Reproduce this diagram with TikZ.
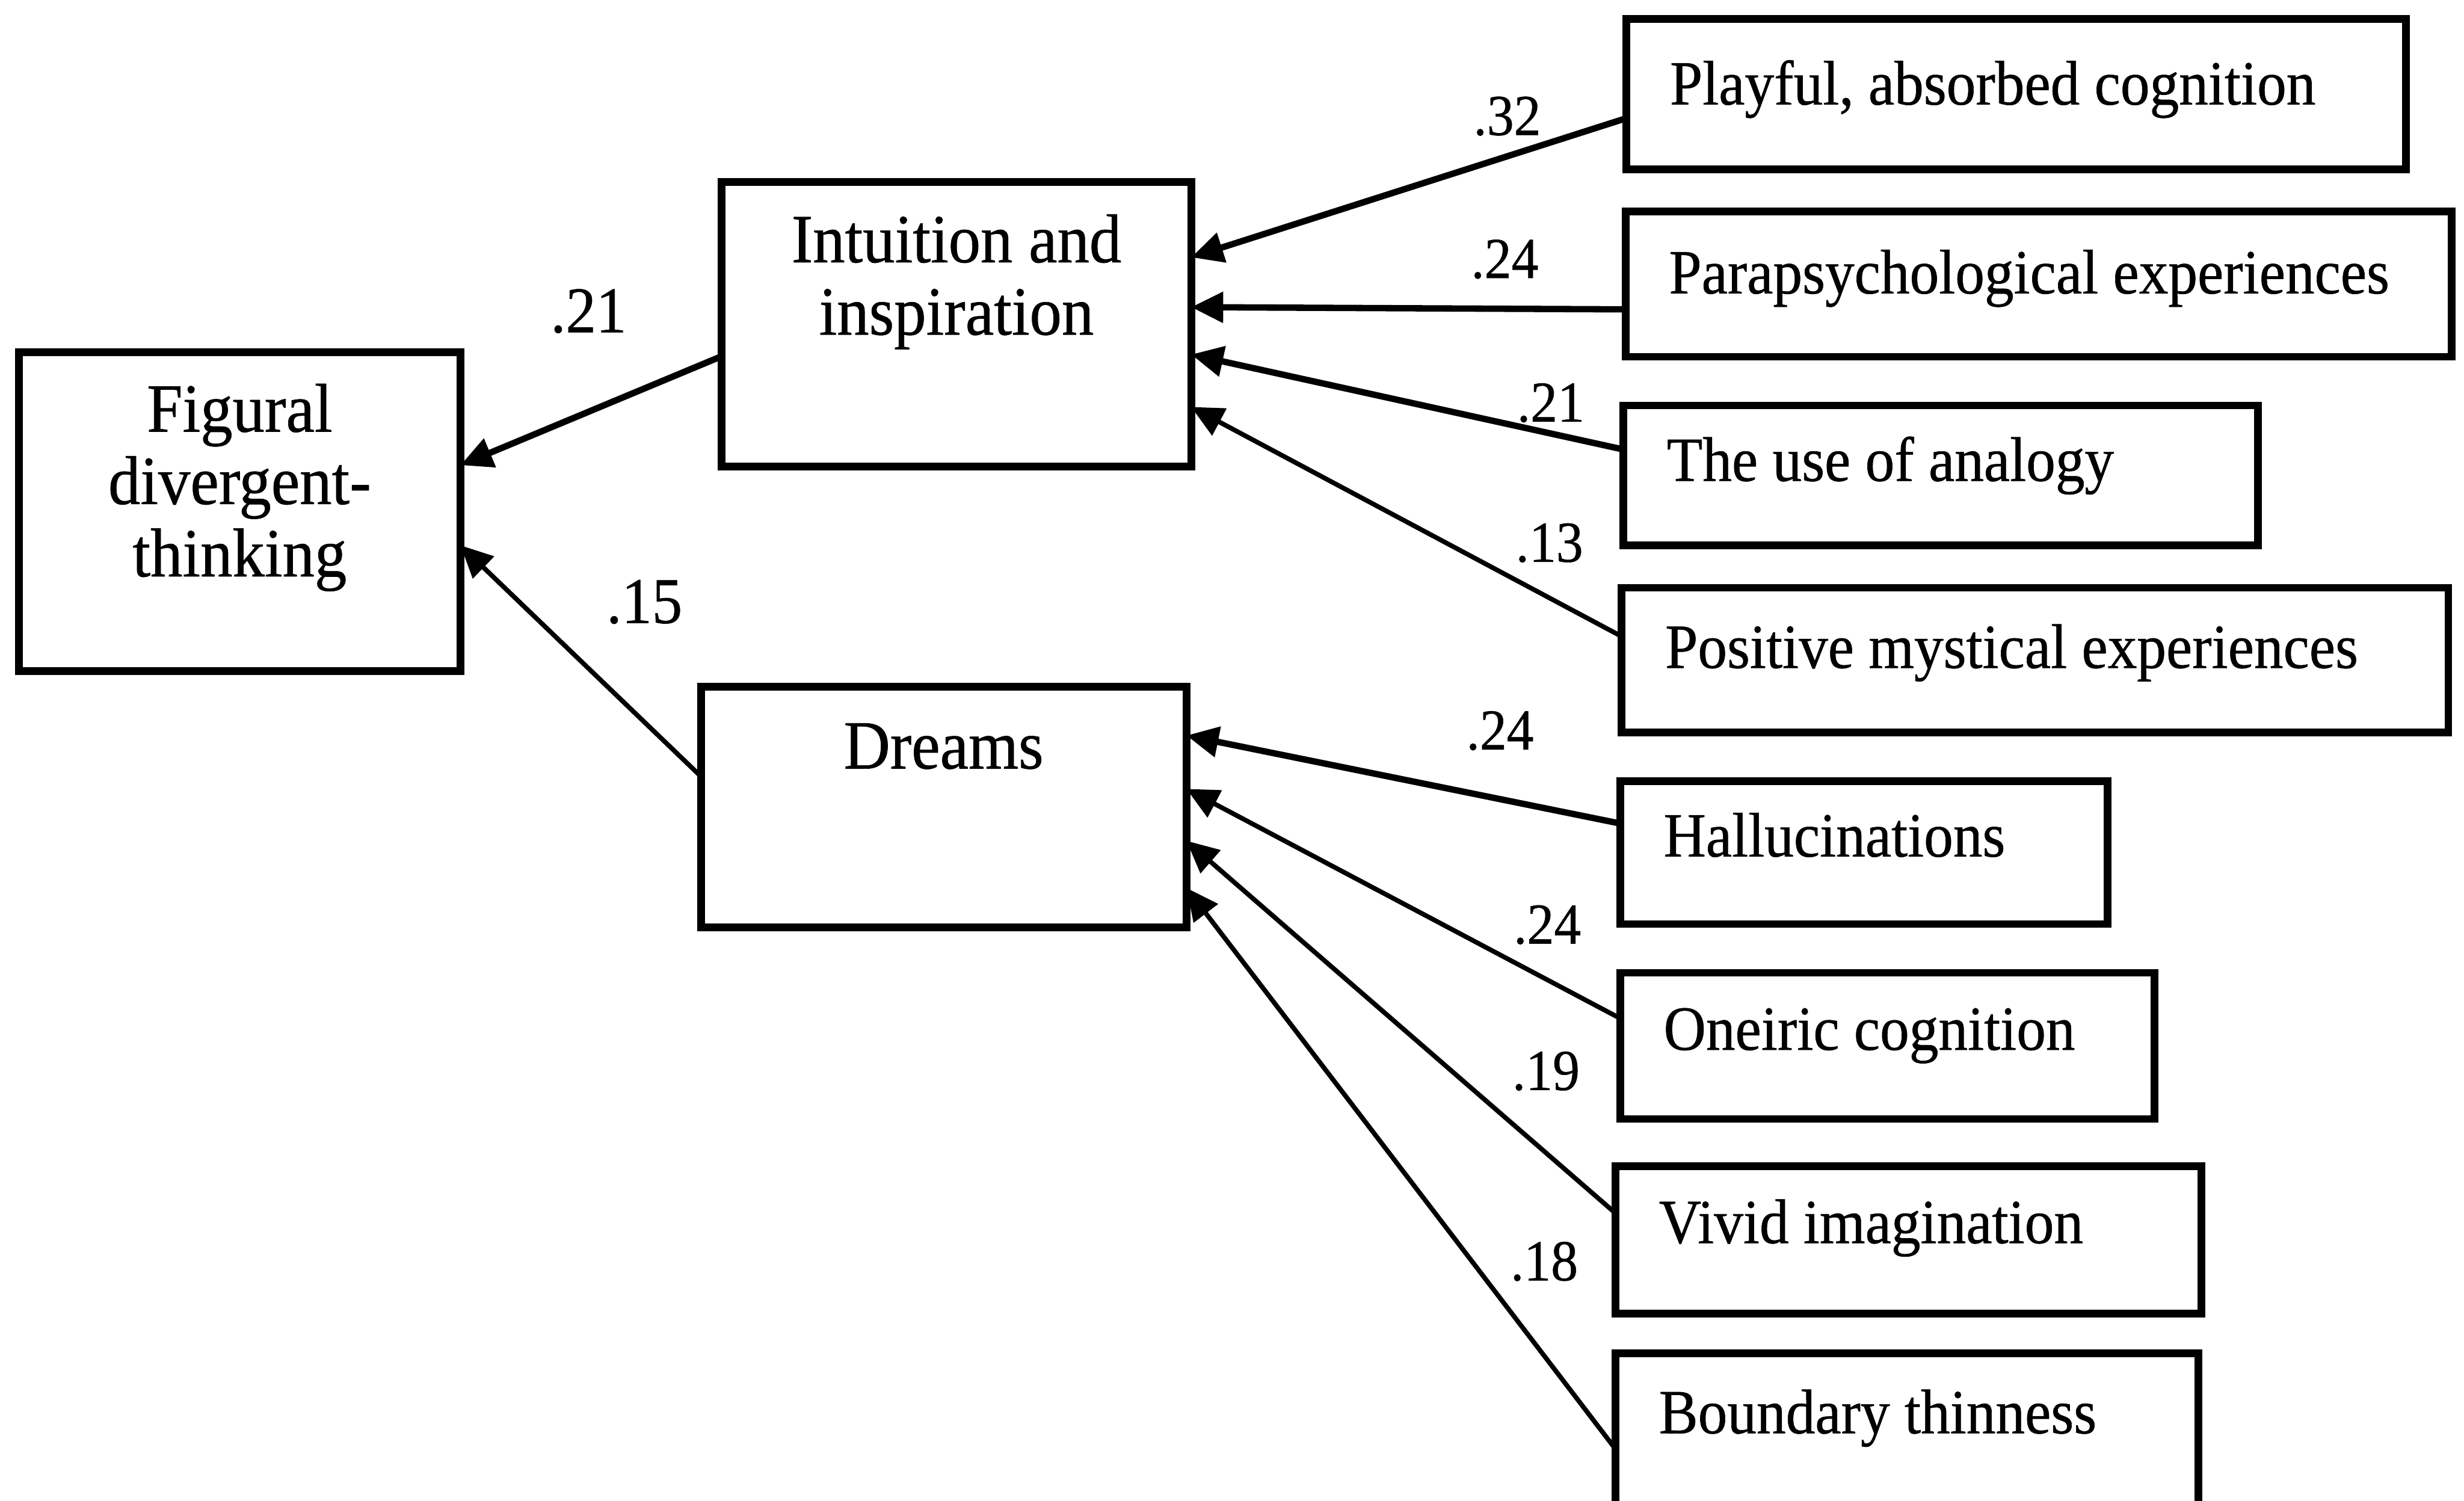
\documentclass[tikz,border=0pt]{standalone}
\usepackage{fontspec}
\setmainfont{Liberation Serif}[FakeStretch=0.93, FakeBold=0.6]
\usetikzlibrary{arrows.meta}

\tikzset{
	box/.style={draw, line width=1.4pt, inner sep=0pt, outer sep=0pt, anchor=north west},
	lefttxt/.style={font=\fontsize{12.5}{13.1}\selectfont, align=center, inner sep=0pt},
	itemtxt/.style={font=\fontsize{11.4}{13}\selectfont, inner sep=0pt, anchor=base west, xshift=0.27cm, yshift=-0.49cm},
	effect/.style={-{Triangle[length=5.8pt,width=5.4pt]}, line width=1.15pt},
	weak/.style={effect, line width=0.85pt},
	coef/.style={font=\fontsize{10.5}{12}\selectfont, inner sep=0pt},
	bigcoef/.style={font=\fontsize{11.8}{13}\selectfont, inner sep=0pt}
}

\begin{document}
\begin{tikzpicture}[x=1cm, y=-1cm]
	 \useasboundingbox (0,0) rectangle (15.68,9.55);

	 \node[box, minimum width=2.81cm, minimum height=2.03cm, label={[lefttxt, anchor=north, yshift=-0.195cm]north:{Figural\\divergent-\\thinking}}] (figural) at (0.12,2.24) {};
	 \node[box, minimum width=2.987cm, minimum height=1.813cm, label={[lefttxt, anchor=north, yshift=-0.2cm]north:{Intuition and\\inspiration}}] (intuition) at (4.593,1.157) {};
	 \node[box, minimum width=3.09cm, minimum height=1.53cm, label={[lefttxt, anchor=base, yshift=-0.52cm]north:{Dreams}}] (dreams) at (4.46,4.37) {};

	 \node[box, minimum width=4.96cm, minimum height=0.956cm, label={[itemtxt, yshift=-0.055cm]north west:{Playful, absorbed cognition}}] (playful) at (10.35,0.12) {};
	 \node[box, minimum width=5.256cm, minimum height=0.923cm, label={[itemtxt, yshift=-0.03cm]north west:{Parapsychological experiences}}] (parapsych) at (10.344,1.347) {};
	 \node[box, minimum width=4.04cm, minimum height=0.89cm, label={[itemtxt, yshift=0.01cm]north west:{The use of analogy}}] (analogy) at (10.33,2.58) {};
	 \node[box, minimum width=5.26cm, minimum height=0.92cm, label={[itemtxt, yshift=-0.02cm]north west:{Positive mystical experiences}}] (mystical) at (10.32,3.74) {};
	 \node[box, minimum width=3.10cm, minimum height=0.91cm, label={[itemtxt, yshift=0.01cm]north west:{Hallucinations}}] (halluc) at (10.31,4.97) {};
	 \node[box, minimum width=3.40cm, minimum height=0.93cm, label={[itemtxt]north west:{Oneiric cognition}}] (oneiric) at (10.31,6.19) {};
	 \node[box, minimum width=3.73cm, minimum height=0.939cm, label={[itemtxt]north west:{Vivid imagination}}] (vivid) at (10.28,7.42) {};
	 \node[box, minimum width=3.71cm, minimum height=1.0cm, label={[itemtxt, yshift=-0.02cm]north west:{Boundary thinness}}] (boundary) at (10.28,8.61) {};

	 \draw[effect] ([yshift=-0.203cm]intuition.west) -- node[bigcoef, pos=0.51, above=0.48cm] {.21} ([yshift=0.295cm]figural.east);
	 \draw[weak] ([yshift=0.195cm]dreams.west) -- node[bigcoef, pos=0.755, right=0.54cm] {.15} ([yshift=-0.215cm]figural.east);

	 \draw[effect] ([yshift=-0.154cm]playful.west) -- node[coef, pos=0.274, above=0.11cm] {.32} ([yshift=0.426cm]intuition.east);
	 \draw[effect] ([yshift=-0.16cm]parapsych.west) -- node[coef, pos=0.278, above=0.17cm] {.24} ([yshift=0.109cm]intuition.east);
	 \draw[effect] ([yshift=0.165cm]analogy.west) -- node[coef, pos=0.168, above=0.05cm] {.21} ([yshift=-0.192cm]intuition.east);
	 \draw[weak] ([yshift=0.15cm]mystical.west) -- node[coef, pos=0.168, above=0.21cm] {.13} ([yshift=-0.526cm]intuition.east);

	 \draw[effect] ([yshift=0.185cm]halluc.west) -- node[coef, pos=0.277, above=0.29cm] {.24} ([yshift=0.455cm]dreams.east);
	 \draw[weak] ([yshift=0.175cm]oneiric.west) -- node[coef, pos=0.168, above=0.21cm] {.24} ([yshift=0.115cm]dreams.east);
	 \draw[weak] ([yshift=0.17cm]vivid.west) -- node[coef, pos=0.162, above=0.38cm] {.19} ([yshift=-0.215cm]dreams.east);
	 \draw[weak] ([yshift=-0.11cm]boundary.west) -- node[coef, pos=0.166, above=0.46cm] {.18} ([yshift=-0.515cm]dreams.east);
\end{tikzpicture}
\end{document}
